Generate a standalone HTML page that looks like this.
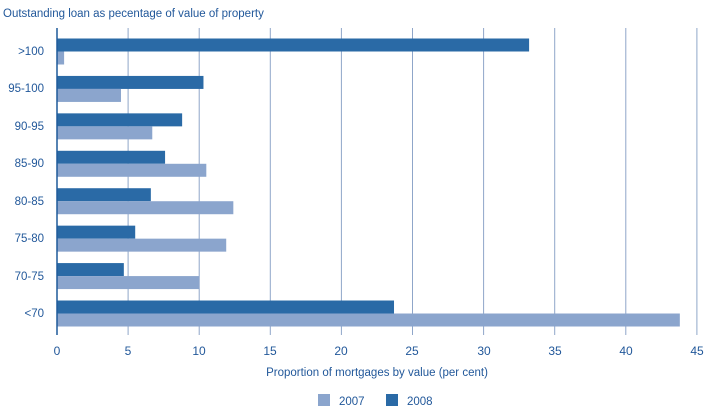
<!DOCTYPE html><html><head><style>body{margin:0;background:#fff}svg{display:block}text{font-family:"Liberation Sans",sans-serif;fill:#22589a}</style></head><body>
<svg width="714" height="413" viewBox="0 0 714 413">
<text x="3" y="17" font-size="11.5">Outstanding loan as pecentage of value of property</text>
<g stroke="#8fa6c9" stroke-width="1">
<line x1="128.1" y1="28" x2="128.1" y2="335"/><line x1="199.2" y1="28" x2="199.2" y2="335"/><line x1="270.3" y1="28" x2="270.3" y2="335"/><line x1="341.4" y1="28" x2="341.4" y2="335"/><line x1="412.5" y1="28" x2="412.5" y2="335"/><line x1="483.6" y1="28" x2="483.6" y2="335"/><line x1="554.7" y1="28" x2="554.7" y2="335"/><line x1="625.8" y1="28" x2="625.8" y2="335"/><line x1="696.9" y1="28" x2="696.9" y2="335"/>
</g>
<g id="b"></g>
<line x1="57" y1="28" x2="57" y2="335" stroke="#1f5a9a" stroke-width="1.5"/>
<g font-size="11.5" text-anchor="end">
<text x="44" y="55">&gt;100</text><text x="44" y="92">95-100</text><text x="44" y="130">90-95</text><text x="44" y="167">85-90</text><text x="44" y="205">80-85</text><text x="44" y="242">75-80</text><text x="44" y="280">70-75</text><text x="44" y="317">&lt;70</text>
</g>
<g font-size="12" text-anchor="middle">
<text x="57" y="355">0</text><text x="128" y="355">5</text><text x="199" y="355">10</text><text x="270" y="355">15</text><text x="341" y="355">20</text><text x="412" y="355">25</text><text x="484" y="355">30</text><text x="555" y="355">35</text><text x="626" y="355">40</text><text x="697" y="355">45</text>
<text x="377" y="376" font-size="11.5">Proportion of mortgages by value (per cent)</text>
</g>
<rect x="318" y="394" width="12" height="12" fill="#8ba5cd"/><text x="339" y="405" font-size="11.5">2007</text>
<rect x="386" y="394" width="12" height="12" fill="#2a6aa6"/><text x="407" y="405" font-size="11.5">2008</text>
</svg>
<script>
var d=[[33.2,0.5],[10.3,4.5],[8.8,6.7],[7.6,10.5],[6.6,12.4],[5.5,11.9],[4.7,10.0],[23.7,43.8]];
var g=document.getElementById('b'),s='';
d.forEach(function(v,i){var y=38.5+i*37.43;
s+='<rect x="57" y="'+y+'" width="'+v[0]*14.22+'" height="13" fill="#2a6aa6"/>';
s+='<rect x="57" y="'+(y+13)+'" width="'+v[1]*14.22+'" height="13" fill="#8ba5cd"/>';});
g.innerHTML=s;
</script>
</body></html>
